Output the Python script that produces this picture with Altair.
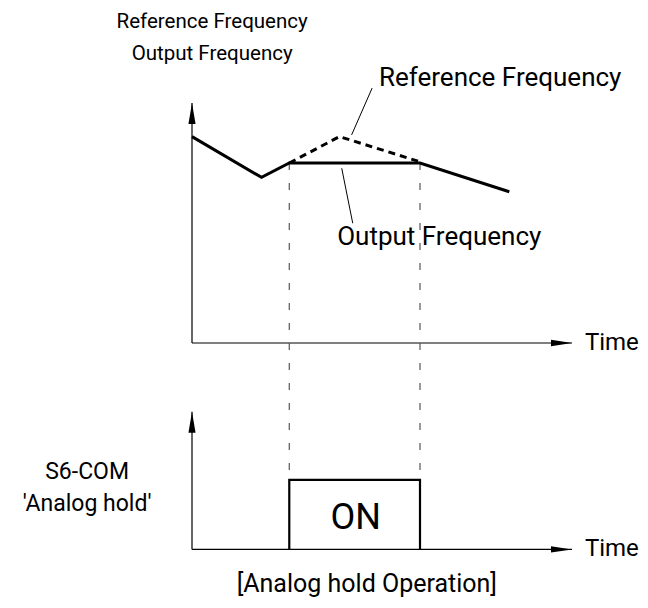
import altair as alt
import pandas as pd

# ---------------- data (time units 0..100, level units 0..100) ----------------
out_t = [0, 18.3, 25.6, 60, 83.5]          # output frequency
out_f = [86, 69, 75, 75, 63]
ref_t = [25.6, 38.8, 60]                   # reference frequency during hold
ref_f = [75, 86, 75.5]
hold_start, hold_end = 25.6, 60            # analog hold ON interval
on_level = 29                              # height of ON pulse (level units)
bottom_base = -86                          # base line of lower panel
bottom_top = -28.6                         # tip of lower panel's vertical arrow
axis_len = 100

# ---------------- layout ----------------
W, H = 632, 592
X0, PXT = 184, 3.8     # plot px of t=0, px per time unit
Y0, PXF = 335, 2.4     # plot px of level 0, px per level unit
xdom = [-X0 / PXT, (W - X0) / PXT]
ydom = [-(H - Y0) / PXF, Y0 / PXF]
X = lambda f: alt.X(f, type="quantitative", scale=alt.Scale(domain=xdom, nice=False, zero=False), axis=None)
Y = lambda f: alt.Y(f, type="quantitative", scale=alt.Scale(domain=ydom, nice=False, zero=False), axis=None)

FONT = "Roboto, Liberation Sans, sans-serif"

def segs(list_of_pts):
    rows = []
    for i, pts in enumerate(list_of_pts):
        for j, (a, b) in enumerate(pts):
            rows.append({"x": a, "y": b, "seg": i, "o": j})
    return pd.DataFrame(rows)

def lines(df, **kw):
    return alt.Chart(df).mark_line(**kw).encode(x=X("x"), y=Y("y"), detail="seg:N", order="o:Q")

axes_df = segs([
    [(0, 0), (0, axis_len)],
    [(0, 0), (axis_len, 0)],
    [(0, bottom_base), (0, bottom_top)],
    [(0, bottom_base), (axis_len, bottom_base)],
])
output_df = segs([list(zip(out_t, out_f))])
ref_df = segs([list(zip(ref_t, ref_f))])
guides_df = segs([
    [(hold_start, out_f[2]), (hold_start, bottom_base + on_level)],
    [(hold_end, out_f[3]), (hold_end, bottom_base + on_level)],
])
pulse_df = segs([[(hold_start, bottom_base), (hold_start, bottom_base + on_level),
                  (hold_end, bottom_base + on_level), (hold_end, bottom_base)]])
leaders_df = segs([
    [(42.0, 86.7), (47.4, 106.2)],
    [(39.4, 72.8), (42.3, 49.9)],
])

up_df = pd.DataFrame({"x": [0, 0], "y": [axis_len, bottom_top]})
right_df = pd.DataFrame({"x": [axis_len, axis_len], "y": [0, bottom_base]})

UP = "M0,0L0.34,2L-0.34,2Z"
RIGHT = "M0,0L-2,-0.3L-2,0.3Z"

layers = [
    lines(axes_df, color="black", strokeWidth=1.2),
    lines(guides_df, color="#555555", strokeWidth=1.2, strokeDash=[7, 13]),
    lines(output_df, color="black", strokeWidth=3),
    lines(ref_df, color="black", strokeWidth=3, strokeDash=[7, 5]),
    lines(pulse_df, color="black", strokeWidth=2.2),
    lines(leaders_df, color="black", strokeWidth=1),
    alt.Chart(up_df).mark_point(shape=UP, size=441, filled=True, color="black", opacity=1, strokeWidth=0)
        .encode(x=X("x"), y=Y("y")),
    alt.Chart(right_df).mark_point(shape=RIGHT, size=441, filled=True, color="black", opacity=1, strokeWidth=0)
        .encode(x=X("x"), y=Y("y")),
]

# texts
left_texts = pd.DataFrame({
    "x": [49.2, 38.2, 103.4, 103.4],
    "y": [107, 40.8, -2.9, -88.7],
    "t": ["Reference Frequency", "Output Frequency", "Time", "Time"],
    "fs": [26, 26, 24, 24],
})
center_texts = pd.DataFrame({
    "x": [5.3, 5.3, -27.6, -27.6, 43.1, 46.0],
    "y": [131.2, 118.0, -56.8, -69.9, -77.6, -103.6],
    "t": ["Reference Frequency", "Output Frequency", "S6-COM", "'Analog hold'", "ON", "[Analog hold Operation]"],
    "fs": [20.5, 20.5, 23, 23, 36, 25],
})
layers.append(alt.Chart(left_texts).mark_text(align="left", baseline="alphabetic", font=FONT, color="black")
              .encode(x=X("x"), y=Y("y"), text="t:N", size=alt.Size("fs:Q", scale=None, legend=None)))
layers.append(alt.Chart(center_texts).mark_text(align="center", baseline="alphabetic", font=FONT, color="black")
              .encode(x=X("x"), y=Y("y"), text="t:N", size=alt.Size("fs:Q", scale=None, legend=None)))

chart = alt.layer(*layers).properties(
    width=W, height=H, autosize=alt.AutoSizeParams(type="none"), padding=0,
    background="white",
).configure_view(stroke=None)

chart.save("out.html", embed_options={"renderer": "svg", "actions": False})
